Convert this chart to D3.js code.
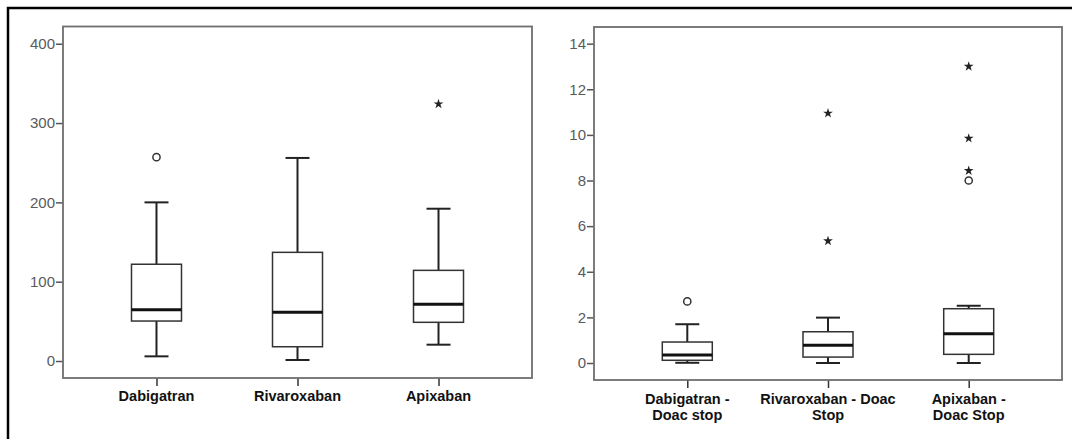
<!DOCTYPE html>
<html>
<head>
<meta charset="utf-8">
<script src="https://cdn.jsdelivr.net/npm/d3@7"></script>
<style>
  html, body { margin: 0; padding: 0; background: #fff; }
  svg { display: block; font-family: "Liberation Sans", Arial, sans-serif; }
</style>
</head>
<body>
<svg id="plot"></svg>
<script>
const WIDTH = 1072;
const HEIGHT = 439;

// Left panel: days
const leftCategories = ['Dabigatran', 'Rivaroxaban', 'Apixaban'];
const leftLow = [5.9, 1.3, 20.6];
const leftQ1 = [50.4, 18, 48.8];
const leftMedian = [64.7, 61.4, 71.5];
const leftQ3 = [122, 137, 114.3];
const leftHigh = [200, 256, 192];
const leftOutliers = [[257], [], []];
const leftExtremes = [[], [], [324]];
const leftTicks = [0, 100, 200, 300, 400];

// Right panel: difference to doac stop
const rightCategories = ['Dabigatran - Doac stop', 'Rivaroxaban - Doac Stop', 'Apixaban - Doac Stop'];
const rightLabelLines = [['Dabigatran -', 'Doac stop'], ['Rivaroxaban - Doac', 'Stop'], ['Apixaban -', 'Doac Stop']];
const rightLow = [0.01, 0, 0];
const rightQ1 = [0.12, 0.26, 0.38];
const rightMedian = [0.35, 0.78, 1.28];
const rightQ3 = [0.92, 1.37, 2.38];
const rightHigh = [1.70, 1.99, 2.51];
const rightOutliers = [[2.7], [], [8.0]];
const rightExtremes = [[], [10.95, 5.35], [13.0, 9.85, 8.43]];
const rightTicks = [0, 2, 4, 6, 8, 10, 12, 14];

const svg = d3.select('#plot')
    .attr('width', WIDTH)
    .attr('height', HEIGHT);

// outer black frame (only top/left visible in the crop)
svg.append('rect')
    .attr('x', 8).attr('y', 8)
    .attr('width', WIDTH + 20).attr('height', HEIGHT + 20)
    .attr('fill', 'none')
    .attr('stroke', '#000')
    .attr('stroke-width', 2.5);

function boxPanel(opts) {
    const { x0, x1, y0, y1, domain, ticks, categories, labels, low, q1, med, q3, high, outliers, extremes } = opts;

    const xScale = d3.scalePoint()
        .domain(categories)
        .range([x0, x1])
        .padding(0.663);

    const yScale = d3.scaleLinear()
        .domain(domain)
        .range([y1, y0]);

    const g = svg.append('g');

    // y axis
    const yAxis = g.append('g')
        .attr('transform', `translate(${x0}, 0)`)
        .call(d3.axisLeft(yScale).tickValues(ticks).tickSize(7).tickPadding(1));
    yAxis.select('.domain').remove();
    yAxis.selectAll('line').attr('stroke', '#555').attr('stroke-width', 1.5);
    yAxis.selectAll('text')
        .attr('fill', '#5a5a5a')
        .style('font-size', '15px')
        .style('font-family', '"Liberation Sans", Arial, sans-serif');

    // x axis
    const xAxis = g.append('g')
        .attr('transform', `translate(0, ${y1})`)
        .call(d3.axisBottom(xScale).tickSize(8).tickFormat(''));
    xAxis.select('.domain').remove();
    xAxis.selectAll('line').attr('stroke', '#333').attr('stroke-width', 1.5);

    const lbl = g.append('g').selectAll('text')
        .data(categories)
        .enter().append('text')
            .attr('x', d => xScale(d))
            .attr('text-anchor', 'middle')
            .attr('fill', '#111')
            .style('font-size', '14.5px')
            .style('font-weight', 'bold');
    lbl.each(function(d, i) {
        const lines = labels[i];
        const t = d3.select(this);
        const base = lines.length > 1 ? 404 : 401;
        lines.forEach((line, j) => {
            t.append('tspan')
                .attr('x', xScale(d))
                .attr('y', base + j * 15.5)
                .text(line);
        });
    });

    // frame
    g.append('rect')
        .attr('x', x0).attr('y', y0)
        .attr('width', x1 - x0).attr('height', y1 - y0)
        .attr('fill', 'none')
        .attr('stroke', '#6e6e6e')
        .attr('stroke-width', 1.8);

    const boxW = 50;
    const capW = 24;

    const boxes = g.append('g')
        .selectAll('g')
        .data(categories)
        .enter().append('g');

    // whisker stems
    boxes.append('line')
        .attr('x1', d => xScale(d)).attr('x2', d => xScale(d))
        .attr('y1', (d, i) => yScale(high[i])).attr('y2', (d, i) => yScale(q3[i]))
        .attr('stroke', '#222').attr('stroke-width', 2);
    boxes.append('line')
        .attr('x1', d => xScale(d)).attr('x2', d => xScale(d))
        .attr('y1', (d, i) => yScale(q1[i])).attr('y2', (d, i) => yScale(low[i]))
        .attr('stroke', '#222').attr('stroke-width', 2);
    // caps
    boxes.append('line')
        .attr('x1', d => xScale(d) - capW / 2).attr('x2', d => xScale(d) + capW / 2)
        .attr('y1', (d, i) => yScale(high[i])).attr('y2', (d, i) => yScale(high[i]))
        .attr('stroke', '#222').attr('stroke-width', 2);
    boxes.append('line')
        .attr('x1', d => xScale(d) - capW / 2).attr('x2', d => xScale(d) + capW / 2)
        .attr('y1', (d, i) => yScale(low[i])).attr('y2', (d, i) => yScale(low[i]))
        .attr('stroke', '#222').attr('stroke-width', 2);
    // box
    boxes.append('rect')
        .attr('x', d => xScale(d) - boxW / 2)
        .attr('width', boxW)
        .attr('y', (d, i) => yScale(q3[i]))
        .attr('height', (d, i) => yScale(q1[i]) - yScale(q3[i]))
        .attr('fill', '#fff')
        .attr('stroke', '#333')
        .attr('stroke-width', 1.5);
    // median
    boxes.append('line')
        .attr('x1', d => xScale(d) - boxW / 2).attr('x2', d => xScale(d) + boxW / 2)
        .attr('y1', (d, i) => yScale(med[i])).attr('y2', (d, i) => yScale(med[i]))
        .attr('stroke', '#111').attr('stroke-width', 3);

    // outliers (circles)
    const outPts = [];
    categories.forEach((c, i) => outliers[i].forEach(v => outPts.push({ c, v })));
    g.append('g').selectAll('circle')
        .data(outPts)
        .enter().append('circle')
            .attr('cx', d => xScale(d.c))
            .attr('cy', d => yScale(d.v))
            .attr('r', 3.6)
            .attr('fill', 'none')
            .attr('stroke', '#333')
            .attr('stroke-width', 1.5);

    // extremes (stars)
    const extPts = [];
    categories.forEach((c, i) => extremes[i].forEach(v => extPts.push({ c, v })));
    g.append('g').selectAll('path')
        .data(extPts)
        .enter().append('path')
            .attr('d', d3.symbol().type(d3.symbolStar).size(30))
            .attr('transform', d => `translate(${xScale(d.c)}, ${yScale(d.v)})`)
            .attr('fill', '#222');
}

boxPanel({
    x0: 63, x1: 532, y0: 26.5, y1: 378,
    domain: [-21.4, 421.7], ticks: leftTicks,
    categories: leftCategories, labels: leftCategories.map(c => [c]),
    low: leftLow, q1: leftQ1, med: leftMedian, q3: leftQ3, high: leftHigh,
    outliers: leftOutliers, extremes: leftExtremes
});

boxPanel({
    x0: 594, x1: 1062, y0: 27, y1: 380,
    domain: [-0.745, 14.73], ticks: rightTicks,
    categories: rightCategories, labels: rightLabelLines,
    low: rightLow, q1: rightQ1, med: rightMedian, q3: rightQ3, high: rightHigh,
    outliers: rightOutliers, extremes: rightExtremes
});
</script>
</body>
</html>
